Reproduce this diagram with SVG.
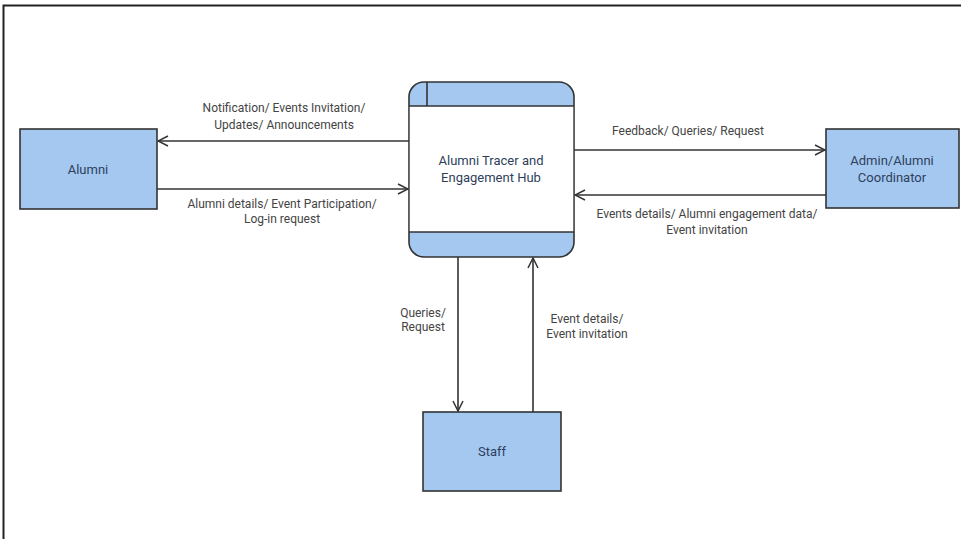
<svg xmlns="http://www.w3.org/2000/svg" width="961" height="539" viewBox="0 0 961 539">
<defs>
<marker id="arr" viewBox="0 0 12 12" refX="11" refY="6" markerWidth="12" markerHeight="12" markerUnits="userSpaceOnUse" orient="auto">
<path d="M1,1 L11,6 L1,11" fill="none" stroke="#333" stroke-width="1.5"/>
</marker>
</defs>
<style>
.box{fill:#a4c8f0;stroke:#333;stroke-width:1.6}
.nl{font-family:Roboto,"Liberation Sans",sans-serif;font-size:13px;fill:#2e3f5c;text-anchor:middle}
.el{font-family:Roboto,"Liberation Sans",sans-serif;font-size:12px;fill:#444;text-anchor:middle}
.ln{stroke:#333;stroke-width:1.6;fill:none;marker-end:url(#arr)}
</style>
<rect width="961" height="539" fill="#fff"/>
<path d="M3.5,539 V5.5 H961" fill="none" stroke="#222" stroke-width="2"/>
<g id="hub">
<rect x="409" y="82" width="165" height="175" rx="15" fill="#a4c8f0" stroke="#333" stroke-width="1.6"/>
<rect x="409.8" y="106" width="163.4" height="126" fill="#fff"/>
<line x1="409" y1="106" x2="574" y2="106" stroke="#333" stroke-width="1.6"/>
<line x1="409" y1="232" x2="574" y2="232" stroke="#333" stroke-width="1.6"/>
<line x1="427" y1="82" x2="427" y2="106" stroke="#333" stroke-width="1.6"/>
<text class="nl" x="491" y="165">Alumni Tracer and</text>
<text class="nl" x="491" y="182">Engagement Hub</text>
</g>
<g id="alumni">
<rect class="box" x="20" y="129" width="137" height="80"/>
<text class="nl" x="88" y="174">Alumni</text>
</g>
<g id="admin">
<rect class="box" x="826" y="129" width="133" height="79"/>
<text class="nl" x="892" y="165">Admin/Alumni</text>
<text class="nl" x="892" y="182">Coordinator</text>
</g>
<g id="staff">
<rect class="box" x="423" y="412" width="138" height="79"/>
<text class="nl" x="492" y="456">Staff</text>
</g>
<g id="connectors">
<line class="ln" x1="409" y1="141" x2="158" y2="141"/>
<line class="ln" x1="157" y1="189" x2="408" y2="189"/>
<line class="ln" x1="574" y1="150" x2="825" y2="150"/>
<line class="ln" x1="826" y1="195" x2="575" y2="195"/>
<line class="ln" x1="458" y1="257" x2="458" y2="411"/>
<line class="ln" x1="533" y1="412" x2="533" y2="258"/>
<text class="el" x="284" y="112">Notification/ Events Invitation/</text>
<text class="el" x="284" y="129">Updates/ Announcements</text>
<text class="el" x="282" y="208">Alumni details/ Event Participation/</text>
<text class="el" x="282" y="223">Log-in request</text>
<text class="el" x="688" y="135">Feedback/ Queries/ Request</text>
<text class="el" x="707" y="218">Events details/ Alumni engagement data/</text>
<text class="el" x="707" y="234">Event invitation</text>
<text class="el" x="423" y="317">Queries/</text>
<text class="el" x="423" y="331">Request</text>
<text class="el" x="587" y="323">Event details/</text>
<text class="el" x="587" y="338">Event invitation</text>
</g>
</svg>
